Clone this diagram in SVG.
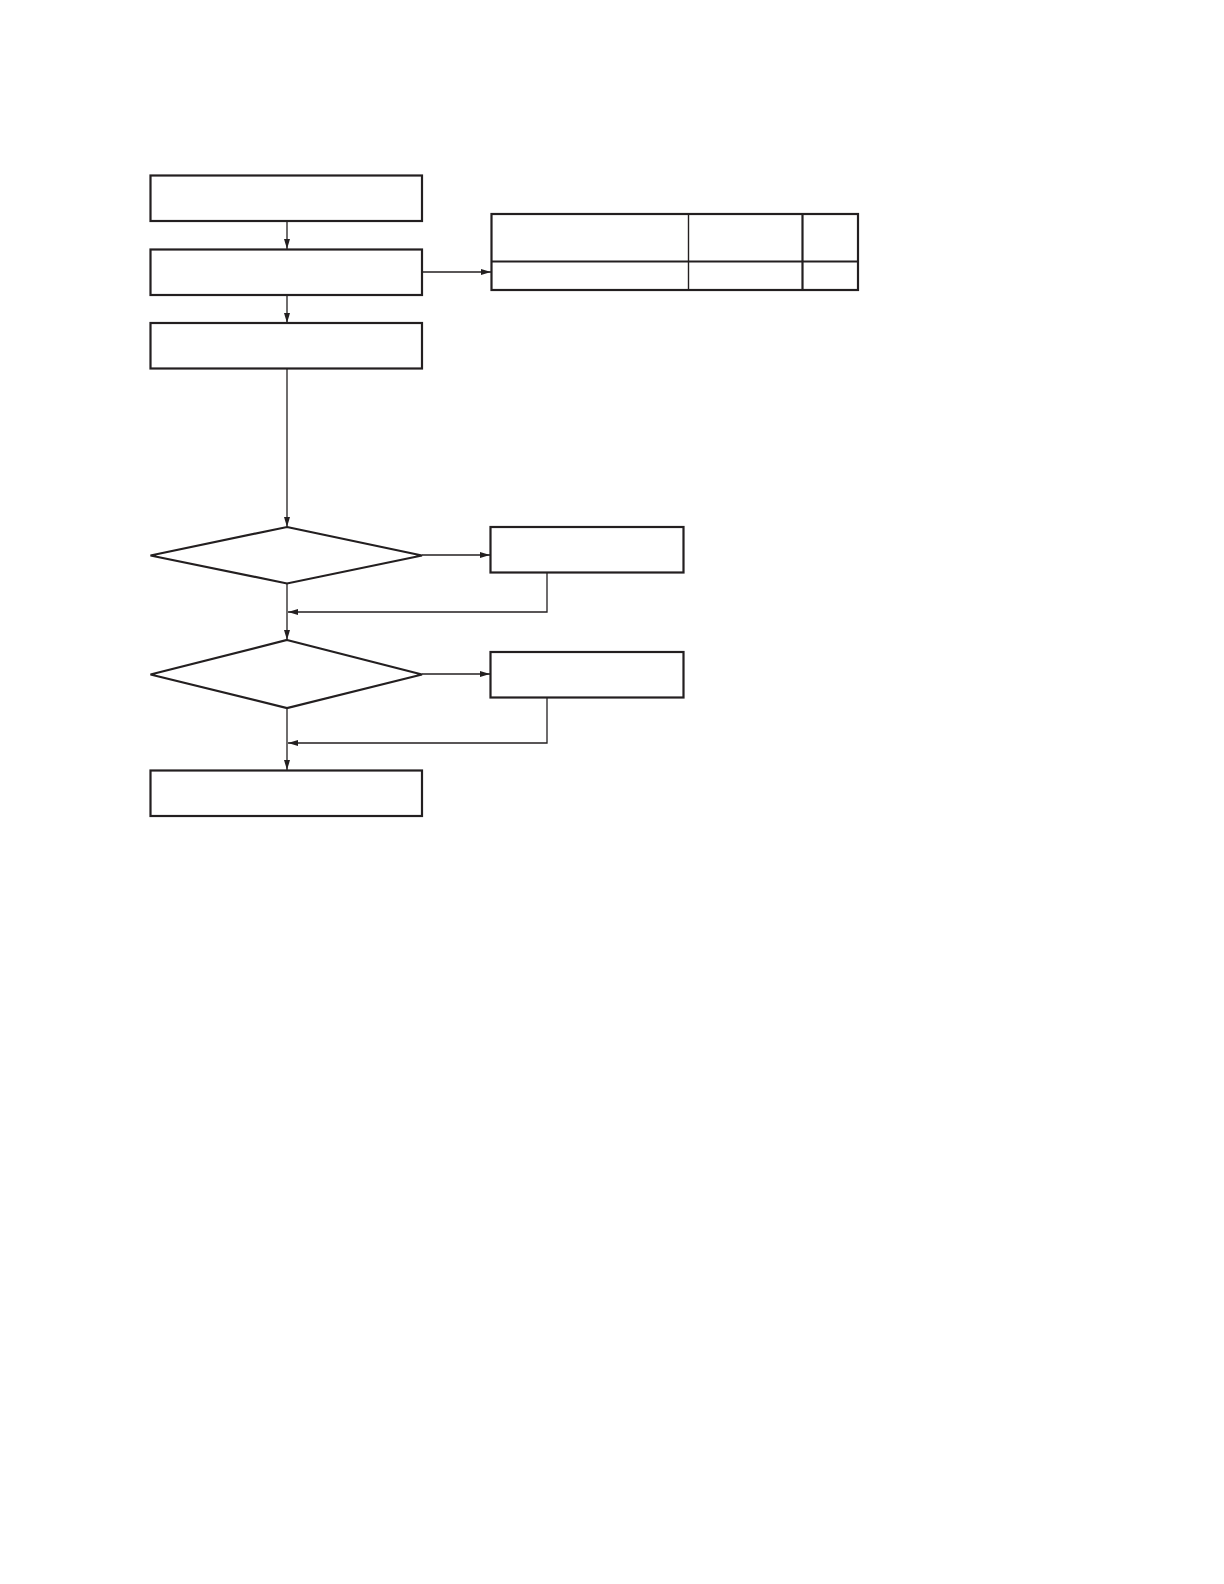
<svg xmlns="http://www.w3.org/2000/svg" width="1224" height="1584" viewBox="0 0 1224 1584">
<style>
.box{fill:#fff;stroke:#231f20;stroke-width:2.2}
.con{fill:none;stroke:#231f20;stroke-width:1.3;marker-end:url(#ah)}
</style>
<defs>
<marker id="ah" viewBox="0 0 10 6" refX="10" refY="3" markerWidth="10" markerHeight="6" markerUnits="userSpaceOnUse" orient="auto">
<path d="M0,0 L10,3 L0,6 z" fill="#231f20"/>
</marker>
</defs>
<rect width="1224" height="1584" fill="#fff"/>
<g id="connectors">
<path class="con" d="M287,221 V249"/>
<path class="con" d="M287,295 V323"/>
<path class="con" d="M422,272 H491"/>
<path class="con" d="M287,368 V527"/>
<path class="con" d="M422,555 H490"/>
<path class="con" d="M547,572 V612 H288"/>
<path class="con" d="M287,584 V640"/>
<path class="con" d="M422,674 H490"/>
<path class="con" d="M547,698 V743 H288"/>
<path class="con" d="M287,708 V770"/>
</g>
<g id="box1"><rect class="box" x="150.5" y="175.5" width="271.5" height="45.5"/></g>
<g id="box2"><rect class="box" x="150.5" y="249.5" width="271.5" height="45.5"/></g>
<g id="box3"><rect class="box" x="150.5" y="323" width="271.5" height="45.5"/></g>
<g id="table">
<rect class="box" x="491.5" y="214" width="366.5" height="76"/>
<line x1="491.5" y1="261.5" x2="858" y2="261.5" stroke="#231f20" stroke-width="2.2"/>
<line x1="688.5" y1="214" x2="688.5" y2="290" stroke="#231f20" stroke-width="1.4"/>
<line x1="802.5" y1="214" x2="802.5" y2="290" stroke="#231f20" stroke-width="2.2"/>
</g>
<g id="decision1"><polygon class="box" points="287,527 422,555.5 287,583.5 150.5,555.5"/></g>
<g id="box4"><rect class="box" x="490.5" y="527" width="193" height="45.5"/></g>
<g id="decision2"><polygon class="box" points="287,640 422,674.5 287,708 150.5,674.5"/></g>
<g id="box5"><rect class="box" x="490.5" y="652" width="193" height="45.5"/></g>
<g id="box6"><rect class="box" x="150.5" y="770.5" width="271.5" height="45.5"/></g>
</svg>
